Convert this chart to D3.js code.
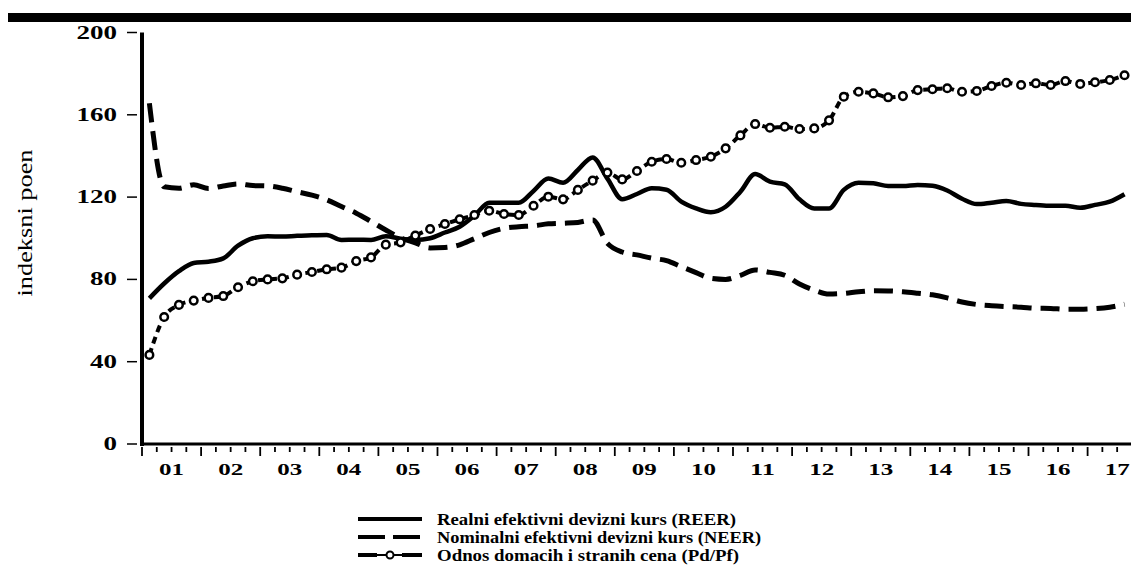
<!DOCTYPE html>
<html>
<head>
<meta charset="utf-8">
<script src="https://cdn.jsdelivr.net/npm/d3@7"></script>
<style>
  body { margin: 0; background: #fff; }
  text { font-family: "Liberation Serif", "Times New Roman", serif; fill: #000; }
</style>
</head>
<body>
<div id="chart"></div>
<script>
// kvartalni podaci 2001Q1 - 2017Q3
var yearLabels = ["01","02","03","04","05","06","07","08","09","10","11","12","13","14","15","16","17"];
var yTicks = [0, 40, 80, 120, 160, 200];

var reer = [70.8, 78, 84, 88, 88.6, 90.2, 96.4, 100, 101, 100.8, 101.2, 101.4, 101.6, 99.2, 99.3, 99.2,
  101, 99.8, 99.2, 100, 102.8, 105.6, 111, 117.3, 117.3, 117.3, 123, 129, 127, 133.2, 139.3, 129,
  119, 121.5, 124.3, 123.6, 117.8, 114.5, 112.6, 115.3, 122.6, 131.2, 127.5, 126.2, 118.9, 114.5, 114.5, 123.5,
  127, 126.7, 125.4, 125.4, 125.9, 125.5, 123.2, 119.2, 116.6, 117.3, 118.1, 116.7, 116.2, 115.8, 115.8, 114.8,
  116.2, 117.8, 121.4];
var neer = [165.6, 125, 124.3, 126, 124.2, 125.4, 126.4, 125.6, 125.4, 124.3, 122.6, 121, 118.7, 115.4, 112.2, 108.2,
  104, 100.2, 97.8, 95.3, 95.5, 96.8, 99.8, 102.8, 104.8, 105.6, 106, 107, 107.3, 107.7, 108.9, 97.5,
  93.3, 91.9, 90.3, 89.1, 86.2, 83.3, 80.5, 80, 82, 84.6, 83.4, 82, 77.8, 74.8, 72.9, 73.2,
  74, 74.5, 74.4, 74, 73.3, 72.5, 71, 69, 67.8, 67.2, 66.8, 66.5, 66, 65.9, 65.5, 65.5,
  65.8, 66.5, 67.9];
var pdpf = [43.3, 61.7, 67.6, 69.7, 71, 71.9, 76.2, 79.1, 80, 80.5, 82.3, 83.6, 84.9, 85.7, 88.9, 90.7,
  96.9, 98, 101.3, 104.5, 106.9, 109.2, 111.3, 113.4, 111.8, 111.3, 115.8, 120.2, 118.9, 123.5, 128, 131.9,
  128.6, 132.7, 137.2, 138.5, 136.7, 138, 139.6, 143.7, 150, 155.5, 153.7, 154.2, 153.1, 153.4, 157.3, 168.8,
  171.2, 170.4, 168.5, 169.1, 172, 172.4, 172.9, 171.2, 171.6, 174, 175.6, 174.5, 175.3, 174.5, 176.4, 175,
  175.8, 176.9, 179.2];

var legendNames = ["Realni efektivni devizni kurs (REER)", "Nominalni efektivni devizni kurs (NEER)", "Odnos domacih i stranih cena (Pd/Pf)"];

var width = 1131, height = 576;

var svg = d3.select("#chart").append("svg")
  .attr("width", width)
  .attr("height", height);

var x = d3.scaleLinear().domain([2001, 2018]).range([142, 142 + 17 * 59.1]);
var y = d3.scaleLinear().domain([0, 200]).range([444, 32.5]);

function qx(d, i) { return x(2001 + (i + 0.5) / 4); }

// gornja traka
svg.append("rect").attr("x", 8).attr("y", 13).attr("width", width - 8).attr("height", 9).attr("fill", "#000");

// ose
svg.append("line").attr("x1", 142).attr("x2", 142).attr("y1", y(200)).attr("y2", 446)
  .attr("stroke", "#000").attr("stroke-width", 4);
svg.append("line").attr("x1", 140).attr("x2", width).attr("y1", 444).attr("y2", 444)
  .attr("stroke", "#000").attr("stroke-width", 3);

var yt = svg.append("g").selectAll("g").data(yTicks).enter().append("g");
yt.append("line").attr("x1", 127).attr("x2", 137).attr("y1", function(d) { return y(d); }).attr("y2", function(d) { return y(d); })
  .attr("stroke", "#000").attr("stroke-width", 1.5);
yt.append("text").attr("x", 117).attr("y", function(d) { return y(d) + 6; })
  .attr("text-anchor", "end").attr("font-size", 18).attr("font-weight", "bold")
  .attr("textLength", function(d) { return String(d).length * 13.5; })
  .attr("lengthAdjust", "spacingAndGlyphs")
  .text(function(d) { return d; });

// kvartalne crtice
var quarters = d3.range(0, 17 * 4);
svg.append("g").selectAll("line").data(quarters).enter().append("line")
  .attr("x1", function(d) { return x(2001 + d / 4); })
  .attr("x2", function(d) { return x(2001 + d / 4); })
  .attr("y1", 447)
  .attr("y2", function(d) { return d % 4 == 0 ? 456 : 452; })
  .attr("stroke", "#000").attr("stroke-width", 1.8);

svg.append("g").selectAll("text").data(yearLabels).enter().append("text")
  .attr("x", function(d, i) { return x(2001 + i + 0.5); })
  .attr("y", 475)
  .attr("text-anchor", "middle").attr("font-size", 17.5).attr("font-weight", "bold")
  .attr("textLength", 25).attr("lengthAdjust", "spacingAndGlyphs")
  .text(function(d) { return d; });

svg.append("text")
  .attr("transform", "translate(32,223) rotate(-90)")
  .attr("text-anchor", "middle").attr("font-size", 21)
  .attr("textLength", 147).attr("lengthAdjust", "spacingAndGlyphs")
  .text("indeksni poen");

// linije
var line = d3.line().x(qx).y(function(d) { return y(d); }).curve(d3.curveMonotoneX);

svg.append("path").datum(neer).attr("d", line)
  .attr("fill", "none").attr("stroke", "#000").attr("stroke-width", 5)
  .attr("stroke-dasharray", "19,9");

svg.append("path").datum(reer).attr("d", line)
  .attr("fill", "none").attr("stroke", "#000").attr("stroke-width", 4.5)
  .attr("stroke-linejoin", "round");

svg.append("path").datum(pdpf).attr("d", line)
  .attr("fill", "none").attr("stroke", "#000").attr("stroke-width", 4)
  .attr("stroke-dasharray", "7,5");

svg.append("g").selectAll("circle").data(pdpf).enter().append("circle")
  .attr("cx", qx)
  .attr("cy", function(d) { return y(d); })
  .attr("r", 3.8)
  .attr("fill", "#fff").attr("stroke", "#000").attr("stroke-width", 2.5);

// legenda
var legY = [519, 537, 555];
var legLen = [299, 324, 302];
var leg = svg.append("g");
leg.append("line").attr("x1", 358).attr("x2", 422).attr("y1", legY[0]).attr("y2", legY[0])
  .attr("stroke", "#000").attr("stroke-width", 4);
leg.append("line").attr("x1", 358).attr("x2", 422).attr("y1", legY[1]).attr("y2", legY[1])
  .attr("stroke", "#000").attr("stroke-width", 4).attr("stroke-dasharray", "27,8");
leg.append("line").attr("x1", 358).attr("x2", 377).attr("y1", legY[2]).attr("y2", legY[2])
  .attr("stroke", "#000").attr("stroke-width", 4);
leg.append("line").attr("x1", 377).attr("x2", 402).attr("y1", legY[2]).attr("y2", legY[2])
  .attr("stroke", "#000").attr("stroke-width", 2);
leg.append("line").attr("x1", 402).attr("x2", 422).attr("y1", legY[2]).attr("y2", legY[2])
  .attr("stroke", "#000").attr("stroke-width", 4);
leg.append("circle").attr("cx", 390).attr("cy", legY[2]).attr("r", 3.5)
  .attr("fill", "#fff").attr("stroke", "#000").attr("stroke-width", 2);

leg.selectAll("text").data(legendNames).enter().append("text")
  .attr("x", 437).attr("y", function(d, i) { return legY[i] + 5.5; })
  .attr("font-size", 17).attr("font-weight", "bold")
  .attr("textLength", function(d, i) { return legLen[i]; })
  .attr("lengthAdjust", "spacingAndGlyphs")
  .text(function(d) { return d; });
</script>
</body>
</html>
